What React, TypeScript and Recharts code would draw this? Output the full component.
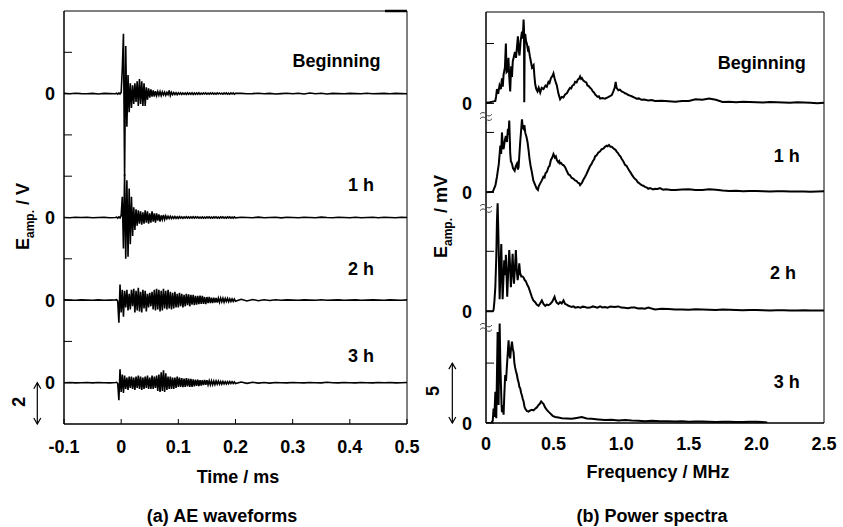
import React from 'react';
import { LineChart, Line, XAxis, YAxis, ReferenceLine, ReferenceDot, ReferenceArea } from 'recharts';

const FONT = "'Liberation Sans', Arial, Helvetica, sans-serif";

// ---------------- (a) AE waveforms ----------------
// sampling of the time axis (ms): coarse before, fine around the burst, coarse after
const preStart = -0.1, preStep = 0.01, preCount = 10;
const fineStart = -0.008, fineStep = 0.002, fineCount = 105;
const postStart = 0.21, postStep = 0.01, postCount = 30;

const timeTicks = [-0.1, 0, 0.1, 0.2, 0.3, 0.4, 0.5];
const waveTicks = [0, 2, 4, 6, 8, 10, 12, 14, 16];
const waveNames = ['Beginning', '1 h', '2 h', '3 h'];
const waveOffsets = [14, 8, 4, 0];

// amplitudes (V)
const beginWave = [
  // pre
  0.01, -0.01, 0.02, 0.0, -0.01, 0.01, -0.02, 0.01, 0.0, -0.01,
  // fine
  0.02, -0.03, 0.03, -0.02, 0.05,
  1.2, 2.9, -4.0, 2.3, -1.6,
  0.9, -0.9, 0.5, -0.7, 0.4,
  -0.5, 0.5, -0.4, 0.6, -0.6,
  0.7, -0.5, 0.6, -0.6, 0.5,
  -0.6, 0.3, -0.3, 0.25, -0.2,
  0.2, -0.15, 0.15, -0.15, 0.12,
  -0.1, 0.1, -0.08, 0.1, -0.1,
  0.08, -0.06, 0.07, -0.08, 0.06,
  -0.05, 0.15, -0.1, 0.06, -0.05,
  0.05, -0.04, 0.04, -0.05, 0.04,
  -0.03, 0.04, -0.04, 0.03, -0.03,
  0.03, -0.04, 0.04, -0.03, 0.03,
  -0.03, 0.04, -0.04, 0.03, -0.03,
  0.03, -0.03, 0.04, -0.03, 0.02,
  -0.03, 0.03, -0.02, 0.03, -0.03,
  0.02, -0.03, 0.03, -0.02, 0.03,
  -0.03, 0.02, -0.03, 0.03, -0.02,
  0.03, -0.02, 0.02, -0.03, 0.03,
  -0.02, 0.03, -0.03, 0.02, -0.03,
  0.03, -0.02, 0.03, -0.03, 0.02,
  // post
  0.01, -0.01, 0.0, 0.02, -0.01, 0.01, -0.02, 0.0, 0.02, -0.01,
  0.02, -0.02, 0.03, -0.01, 0.02, -0.02, 0.01, 0.0, -0.01, 0.01,
  0.0, -0.01, 0.02, -0.01, 0.0, 0.01, -0.01, 0.01, 0.0, -0.01,
];

const h1Wave = [
  0.0, -0.01, 0.01, 0.0, 0.01, -0.01, 0.0, 0.01, -0.01, 0.0,
  0.02, -0.03, 0.03, -0.02, 0.1,
  1.0, -1.5, 2.1, -2.0, 1.8,
  -1.9, 1.4, -1.3, 1.0, -0.9,
  0.5, -0.6, 0.4, -0.4, 0.35,
  -0.3, 0.3, -0.35, 0.25, -0.3,
  0.35, -0.25, 0.3, -0.3, 0.2,
  -0.25, 0.3, -0.2, 0.2, -0.25,
  0.2, -0.15, 0.15, -0.2, 0.1,
  -0.1, 0.12, -0.1, 0.08, -0.06,
  0.06, -0.05, 0.06, -0.05, 0.04,
  -0.04, 0.05, -0.04, 0.03, -0.04,
  0.04, -0.03, 0.03, -0.04, 0.03,
  -0.03, 0.04, -0.03, 0.03, -0.03,
  0.03, -0.03, 0.04, -0.03, 0.03,
  -0.02, 0.03, -0.03, 0.02, -0.03,
  0.03, -0.03, 0.02, -0.03, 0.03,
  -0.02, 0.03, -0.03, 0.02, -0.03,
  0.03, -0.02, 0.03, -0.03, 0.02,
  -0.03, 0.03, -0.02, 0.03, -0.03,
  0.02, -0.03, 0.03, -0.02, 0.03,
  -0.03, 0.02, -0.03, 0.03, -0.02,
  0.01, 0.0, -0.01, 0.02, -0.01, 0.0, 0.01, -0.02, 0.01, 0.0,
  -0.01, 0.01, 0.0, -0.01, 0.02, 0.0, -0.01, 0.01, 0.0, -0.01,
  0.01, -0.01, 0.0, 0.01, -0.01, 0.01, 0.0, -0.01, 0.01, 0.0,
];

const h2Wave = [
  0.01, 0.0, -0.01, 0.01, 0.0, -0.01, 0.01, -0.01, 0.0, 0.01,
  0.02, -0.05, -1.1, 0.75, -0.6,
  0.5, -0.8, 0.45, -0.35, 0.5,
  -0.5, 0.3, -0.45, 0.5, -0.3,
  0.55, -0.6, 0.45, -0.5, 0.6,
  -0.55, 0.4, -0.6, 0.5, -0.4,
  0.45, -0.55, 0.3, -0.35, 0.35,
  -0.3, 0.4, -0.45, 0.5, -0.5,
  0.55, -0.45, 0.5, -0.55, 0.45,
  -0.5, 0.55, -0.4, 0.45, -0.45,
  0.5, -0.4, 0.4, -0.45, 0.35,
  -0.4, 0.4, -0.35, 0.3, -0.35,
  0.35, -0.3, 0.3, -0.35, 0.25,
  -0.3, 0.3, -0.25, 0.28, -0.3,
  0.25, -0.22, 0.25, -0.25, 0.2,
  -0.22, 0.2, -0.2, 0.22, -0.18,
  0.2, -0.18, 0.15, -0.2, 0.15,
  -0.15, 0.16, -0.14, 0.12, -0.15,
  0.12, -0.12, 0.1, -0.12, 0.1,
  -0.1, 0.1, -0.08, 0.09, -0.1,
  0.08, -0.07, 0.08, -0.08, 0.06,
  -0.07, 0.06, -0.06, 0.05, -0.06,
  0.04, -0.04, 0.03, -0.03, 0.02, -0.02, 0.02, -0.01, 0.01, 0.0,
  -0.01, 0.01, 0.0, -0.01, 0.02, -0.01, 0.0, 0.01, -0.01, 0.0,
  0.01, -0.01, 0.0, 0.01, 0.0, -0.01, 0.01, 0.0, -0.01, 0.01,
];

const h3Wave = [
  0.0, 0.01, -0.01, 0.0, 0.01, -0.01, 0.01, 0.0, -0.01, 0.01,
  0.02, -0.04, -0.85, 0.65, -0.45,
  0.4, -0.5, 0.35, -0.3, 0.25,
  -0.35, 0.3, -0.25, 0.3, -0.3,
  0.25, -0.35, 0.3, -0.25, 0.35,
  -0.3, 0.3, -0.35, 0.25, -0.3,
  0.3, -0.25, 0.35, -0.3, 0.25,
  -0.3, 0.35, -0.3, 0.3, -0.25,
  0.35, -0.4, 0.4, -0.45, 0.5,
  -0.4, 0.6, -0.45, 0.45, -0.35,
  0.3, -0.3, 0.3, -0.3, 0.25,
  -0.3, 0.25, -0.25, 0.3, -0.2,
  0.25, -0.2, 0.22, -0.22, 0.2,
  -0.2, 0.22, -0.18, 0.2, -0.2,
  0.18, -0.2, 0.16, -0.18, 0.15,
  -0.15, 0.15, -0.16, 0.12, -0.14,
  0.12, -0.12, 0.14, -0.1, 0.12,
  -0.1, 0.1, -0.1, 0.09, -0.1,
  0.08, -0.09, 0.08, -0.07, 0.08,
  -0.07, 0.06, -0.07, 0.06, -0.06,
  0.05, -0.06, 0.05, -0.05, 0.05,
  -0.04, 0.05, -0.04, 0.04, -0.04,
  0.03, -0.03, 0.02, -0.02, 0.01, -0.02, 0.01, 0.0, -0.01, 0.01,
  0.0, -0.01, 0.01, 0.0, -0.01, 0.02, 0.0, -0.01, 0.01, 0.0,
  -0.01, 0.01, 0.0, -0.01, 0.01, 0.0, 0.01, -0.01, 0.0, 0.01,
];

// ---------------- (b) Power spectra ----------------
const freqTicks = [0, 0.5, 1, 1.5, 2, 2.5];
const specNames = ['Beginning', '1 h', '2 h', '3 h'];
const specOffsets = [26.67, 19.25, 9.33, 0];

// [frequency MHz, amplitude mV]
const beginSpec: [number, number][] = [
  [0, 0.05], [0.03, 0.1], [0.05, 0.15], [0.069, 0.2], [0.075, 0.6], [0.081, 1.2], [0.09, 0.8], [0.1, 1.5],
  [0.11, 1.2], [0.118, 2.1], [0.124, 1.4], [0.13, 2.4], [0.14, 3.0], [0.147, 5.0], [0.152, 2.6], [0.16, 2.7],
  [0.166, 3.8], [0.172, 2.2], [0.179, 1.0], [0.186, 3.1], [0.192, 2.2], [0.198, 3.5], [0.206, 3.9], [0.214, 4.3],
  [0.222, 3.8], [0.236, 5.6], [0.242, 4.4], [0.248, 4.0], [0.256, 5.2], [0.266, 6.0], [0.272, 5.4], [0.278, 7.0],
  [0.281, 6.2], [0.283, 0.1], [0.286, 5.0], [0.29, 5.8], [0.296, 5.2], [0.302, 5.0], [0.31, 4.5], [0.315, 4.6],
  [0.325, 3.9], [0.332, 3.5], [0.34, 3.0], [0.352, 3.2], [0.358, 2.3], [0.364, 1.6], [0.372, 1.2], [0.381, 1.0],
  [0.39, 1.3], [0.401, 0.9], [0.412, 1.3], [0.425, 1.2], [0.44, 1.5], [0.45, 1.4], [0.462, 1.8], [0.47, 1.7],
  [0.48, 2.1], [0.492, 2.3], [0.499, 2.5], [0.507, 2.1], [0.515, 1.8], [0.524, 1.5], [0.536, 0.8], [0.548, 0.35],
  [0.56, 0.55], [0.572, 0.5], [0.585, 0.75], [0.598, 0.85], [0.61, 1.1], [0.622, 1.3], [0.63, 1.25], [0.64, 1.5],
  [0.65, 1.55], [0.659, 1.8], [0.67, 1.75], [0.68, 2.0], [0.688, 2.05], [0.696, 2.25], [0.704, 2.05], [0.71, 2.1],
  [0.72, 1.9], [0.733, 1.8], [0.742, 1.75], [0.75, 1.5], [0.76, 1.45], [0.77, 1.3], [0.78, 1.2], [0.79, 1.0],
  [0.8, 0.9], [0.807, 0.75], [0.825, 0.55], [0.835, 0.6], [0.844, 0.4], [0.86, 0.45], [0.88, 0.4], [0.9, 0.5],
  [0.917, 0.6], [0.93, 0.7], [0.942, 1.0], [0.952, 1.3], [0.959, 1.8], [0.966, 1.3], [0.979, 1.1], [0.99, 1.15],
  [1.003, 1.0], [1.015, 0.95], [1.028, 0.85], [1.04, 0.8], [1.053, 0.7], [1.065, 0.65], [1.077, 0.6], [1.095, 0.5],
  [1.114, 0.4], [1.13, 0.42], [1.15, 0.3], [1.17, 0.32], [1.2, 0.25], [1.225, 0.28], [1.25, 0.2], [1.3, 0.22],
  [1.35, 0.18], [1.4, 0.15], [1.45, 0.2], [1.5, 0.2], [1.55, 0.35], [1.6, 0.3], [1.65, 0.4], [1.7, 0.3],
  [1.75, 0.12], [1.8, 0.15], [1.85, 0.1], [1.9, 0.14], [1.95, 0.12], [2.0, 0.1], [2.05, 0.08], [2.1, 0.12],
  [2.15, 0.1], [2.2, 0.08], [2.25, 0.05], [2.3, 0.1], [2.35, 0.08], [2.4, 0.06], [2.45, 0.02], [2.5, 0.05],
];

const h1Spec: [number, number][] = [
  [0, 0], [0.05, 0.05], [0.056, 0.2], [0.07, 0.6], [0.081, 1.3], [0.095, 2.4], [0.106, 3.9], [0.112, 3.2],
  [0.118, 5.0], [0.124, 3.9], [0.13, 3.6], [0.14, 4.4], [0.147, 4.7], [0.155, 4.2], [0.162, 5.3], [0.167, 4.8],
  [0.172, 6.0], [0.176, 4.5], [0.179, 3.3], [0.184, 2.6], [0.192, 2.4], [0.2, 2.0], [0.212, 1.8], [0.22, 2.2],
  [0.229, 2.4], [0.236, 1.9], [0.241, 2.1], [0.253, 4.2], [0.26, 5.2], [0.266, 6.1], [0.272, 5.4], [0.278, 5.3],
  [0.284, 5.6], [0.29, 5.0], [0.3, 4.6], [0.307, 4.2], [0.315, 3.5], [0.322, 2.8], [0.33, 2.2], [0.339, 1.7],
  [0.35, 1.0], [0.364, 0.6], [0.375, 0.3], [0.384, 0.2], [0.39, 0.5], [0.401, 0.75], [0.413, 1.0], [0.425, 1.3],
  [0.433, 1.25], [0.44, 1.6], [0.45, 1.7], [0.462, 2.1], [0.47, 2.2], [0.48, 2.7], [0.49, 2.9], [0.499, 3.2],
  [0.51, 2.9], [0.517, 3.0], [0.524, 2.7], [0.535, 2.5], [0.542, 2.6], [0.548, 2.4], [0.556, 2.45], [0.565, 2.3],
  [0.575, 2.25], [0.585, 2.1], [0.597, 1.8], [0.61, 1.5], [0.62, 1.45], [0.634, 1.2], [0.645, 1.15], [0.659, 1.0],
  [0.67, 0.95], [0.68, 0.8], [0.69, 0.75], [0.696, 0.6], [0.703, 0.7], [0.71, 0.8], [0.72, 1.05], [0.733, 1.3],
  [0.742, 1.5], [0.75, 1.7], [0.76, 1.95], [0.77, 2.2], [0.78, 2.35], [0.79, 2.6], [0.8, 2.75], [0.807, 3.0],
  [0.818, 3.1], [0.83, 3.3], [0.842, 3.4], [0.856, 3.6], [0.868, 3.65], [0.88, 3.8], [0.893, 3.9], [0.9, 3.85],
  [0.91, 3.95], [0.92, 3.8], [0.93, 3.8], [0.94, 3.7], [0.95, 3.6], [0.958, 3.55], [0.966, 3.4], [0.975, 3.3],
  [0.985, 3.1], [0.994, 3.0], [1.003, 2.8], [1.015, 2.6], [1.028, 2.3], [1.04, 2.2], [1.05, 2.0], [1.06, 1.8],
  [1.07, 1.65], [1.077, 1.5], [1.086, 1.35], [1.095, 1.2], [1.105, 1.1], [1.114, 1.0], [1.122, 0.85], [1.13, 0.8],
  [1.14, 0.7], [1.151, 0.6], [1.163, 0.55], [1.176, 0.45], [1.19, 0.4], [1.2, 0.3], [1.213, 0.35], [1.225, 0.3],
  [1.237, 0.25], [1.25, 0.3], [1.27, 0.28], [1.286, 0.35], [1.31, 0.22], [1.33, 0.25], [1.37, 0.2], [1.4, 0.2],
  [1.45, 0.24], [1.5, 0.25], [1.55, 0.2], [1.6, 0.2], [1.65, 0.25], [1.7, 0.22], [1.75, 0.15], [1.8, 0.12],
  [1.85, 0.14], [1.9, 0.1], [1.95, 0.12], [2.0, 0.12], [2.05, 0.1], [2.1, 0.08], [2.15, 0.1], [2.2, 0.1],
  [2.25, 0.07], [2.3, 0.08], [2.35, 0.06], [2.4, 0.05], [2.45, 0.08], [2.5, 0.1],
];

const h2Spec: [number, number][] = [
  [0, 0], [0.05, 0], [0.056, 0.1], [0.062, 0.8], [0.069, 2.0], [0.076, 4.5], [0.081, 7.5], [0.086, 9.0],
  [0.091, 6.75], [0.096, 4.0], [0.101, 1.0], [0.106, 3.0], [0.113, 5.6], [0.118, 3.0], [0.123, 1.0], [0.13, 3.0],
  [0.135, 4.25], [0.142, 3.0], [0.147, 4.7], [0.152, 3.0], [0.157, 1.2], [0.165, 3.5], [0.172, 5.1], [0.178, 3.8],
  [0.184, 2.0], [0.19, 3.2], [0.197, 4.8], [0.202, 3.2], [0.207, 2.3], [0.214, 3.6], [0.221, 5.1], [0.227, 3.5],
  [0.234, 2.6], [0.241, 3.2], [0.246, 4.0], [0.252, 3.2], [0.261, 2.9], [0.27, 2.9], [0.278, 2.8], [0.286, 2.6],
  [0.295, 2.5], [0.305, 2.2], [0.315, 2.0], [0.327, 1.6], [0.339, 1.2], [0.35, 0.9], [0.364, 0.75], [0.375, 0.55],
  [0.389, 0.45], [0.4, 0.65], [0.413, 0.9], [0.425, 0.6], [0.438, 0.45], [0.45, 0.55], [0.462, 0.5], [0.475, 0.6],
  [0.49, 0.8], [0.507, 1.2], [0.515, 0.9], [0.524, 0.7], [0.536, 0.6], [0.548, 0.75], [0.56, 0.65], [0.573, 0.9],
  [0.585, 0.6], [0.597, 0.55], [0.61, 0.45], [0.622, 0.4], [0.634, 0.35], [0.647, 0.4], [0.66, 0.3], [0.68, 0.35],
  [0.7, 0.3], [0.715, 0.38], [0.733, 0.35], [0.75, 0.28], [0.77, 0.3], [0.79, 0.4], [0.807, 0.35], [0.825, 0.3],
  [0.844, 0.4], [0.86, 0.32], [0.88, 0.35], [0.9, 0.3], [0.92, 0.4], [0.95, 0.35], [0.979, 0.4], [1.0, 0.3],
  [1.025, 0.28], [1.05, 0.25], [1.075, 0.3], [1.1, 0.3], [1.125, 0.22], [1.15, 0.25], [1.175, 0.2], [1.2, 0.3],
  [1.25, 0.15], [1.3, 0.2], [1.35, 0.18], [1.4, 0.15], [1.45, 0.14], [1.5, 0.12], [1.55, 0.16], [1.6, 0.15],
  [1.65, 0.12], [1.7, 0.1], [1.75, 0.14], [1.8, 0.12], [1.85, 0.1], [1.9, 0.08], [1.95, 0.1], [2.0, 0.1],
  [2.05, 0.08], [2.1, 0.05], [2.15, 0.08], [2.2, 0.08], [2.25, 0.06], [2.3, 0.05], [2.35, 0.07], [2.4, 0.06],
  [2.45, 0.05], [2.5, 0.05],
];

const h3Spec: [number, number][] = [
  [0, 0], [0.04, 0], [0.05, 0.2], [0.056, 1.2], [0.062, 0.5], [0.069, 2.6], [0.076, 0.4], [0.081, 4.0],
  [0.086, 7.6], [0.09, 3.4], [0.093, 1.5], [0.097, 5.0], [0.101, 8.3], [0.106, 5.0], [0.11, 3.4], [0.115, 1.5],
  [0.118, 0.9], [0.125, 1.5], [0.13, 0.7], [0.136, 2.5], [0.142, 4.0], [0.148, 3.5], [0.155, 4.8], [0.162, 6.0],
  [0.167, 6.9], [0.172, 5.8], [0.179, 5.4], [0.185, 6.2], [0.192, 6.8], [0.198, 6.2], [0.204, 5.9], [0.21, 5.0],
  [0.216, 4.6], [0.222, 4.3], [0.229, 4.0], [0.235, 3.6], [0.241, 3.4], [0.247, 3.0], [0.253, 2.9], [0.26, 2.5],
  [0.266, 2.3], [0.272, 2.0], [0.278, 1.8], [0.284, 1.4], [0.29, 1.2], [0.302, 1.0], [0.315, 0.95], [0.327, 1.05],
  [0.339, 1.1], [0.352, 1.05], [0.364, 1.2], [0.376, 1.3], [0.389, 1.5], [0.398, 1.6], [0.408, 1.8], [0.416, 1.7],
  [0.425, 1.6], [0.437, 1.3], [0.45, 1.1], [0.462, 0.95], [0.475, 0.8], [0.493, 0.6], [0.512, 0.5], [0.536, 0.45],
  [0.561, 0.4], [0.597, 0.38], [0.634, 0.35], [0.67, 0.42], [0.708, 0.5], [0.745, 0.38], [0.782, 0.35], [0.83, 0.3],
  [0.88, 0.25], [0.93, 0.28], [0.979, 0.2], [1.03, 0.24], [1.077, 0.2], [1.125, 0.18], [1.176, 0.15], [1.23, 0.18],
  [1.286, 0.15], [1.34, 0.14], [1.4, 0.12], [1.45, 0.14], [1.5, 0.1], [1.55, 0.12], [1.6, 0.12], [1.65, 0.1],
  [1.7, 0.08], [1.75, 0.1], [1.8, 0.1], [1.85, 0.08], [1.9, 0.08], [1.95, 0.1], [2.0, 0.1], [2.04, 0.08], [2.08, 0.05],
];

// ---------------- derived tables ----------------
const seg = (start: number, step: number, n: number) =>
  Array.from({ length: n }, (_, i) => Math.round((start + i * step) * 10000) / 10000);
const timeGrid = [...seg(preStart, preStep, preCount), ...seg(fineStart, fineStep, fineCount), ...seg(postStart, postStep, postCount)];

const waves = [beginWave, h1Wave, h2Wave, h3Wave];
const waveData = waves.map((w, k) =>
  timeGrid.slice(0, w.length).map((t, i) => ({ t, v: w[i] + waveOffsets[k] })),
);
const specs = [beginSpec, h1Spec, h2Spec, h3Spec];
const specData = specs.map((s, k) => s.map(([f, a]) => ({ f, v: a + specOffsets[k] })));

const specTicks = [...specOffsets, ...specOffsets.map((o) => o + 5)].sort((a, b) => a - b);

// ---------------- render helpers ----------------
const txt = { fontFamily: FONT, fontWeight: 'bold' as const, fill: '#000' };

const makeYTick = (zeros: number[], gap: number) => (p: any) => {
  const { x, y, payload } = p;
  const isZero = zeros.some((z) => Math.abs(z - payload.value) < 1e-6);
  return (
    <g>
      <line x1={x} y1={y} x2={x + 8} y2={y} stroke="#000" strokeWidth={1} />
      {isZero && (
        <text x={x - gap} y={y} dy={6.5} textAnchor="end" fontSize={18} {...txt}>0</text>
      )}
    </g>
  );
};

const makeXTick = (tickLen: number, dy: number) => (p: any) => {
  const { x, y, payload } = p;
  const v = payload.value;
  const lbl = v === 0 ? '0' : v.toFixed(1);
  return (
    <g>
      {tickLen > 0 && <line x1={x} y1={y} x2={x} y2={y - tickLen} stroke="#000" strokeWidth={1} />}
      <text x={x} y={y + dy} textAnchor="middle" fontSize={18} {...txt}>{lbl}</text>
    </g>
  );
};

const YTitle = (unit: string, cx: number, fallback: any) => (p: any) => {
  const vb = (p && p.viewBox) || fallback;
  const cy = vb.y + vb.height / 2 - 1;
  return (
    <text transform={`rotate(-90 ${cx} ${cy})`} x={cx} y={cy} dy={6} textAnchor="middle" fontSize={18} {...txt}>
      E<tspan fontSize={12} dy={5}>amp.</tspan>
      <tspan dy={-5}>{` / ${unit}`}</tspan>
    </text>
  );
};

const XTitle = (label: string, dx: number, dy: number, fallback: any) => (p: any) => {
  const vb = (p && p.viewBox) || fallback;
  return (
    <text x={vb.x + vb.width / 2 + dx} y={vb.y + dy} textAnchor="middle" fontSize={18} {...txt}>{label}</text>
  );
};

const textShape = (label: string, size = 18, rotate = false) => (p: any) => {
  const { cx, cy } = p;
  return (
    <text
      x={cx}
      y={cy}
      dy={6.5}
      textAnchor="middle"
      fontSize={size}
      transform={rotate ? `rotate(-90 ${cx} ${cy})` : undefined}
      {...txt}
    >
      {label}
    </text>
  );
};

const breakShape = (p: any) => {
  const { cx, cy } = p;
  const wave = (yy: number) => `M ${cx - 6} ${yy} q 3 -3.5 6 0 t 6 0`;
  return (
    <g fill="none" stroke="#444" strokeWidth={1}>
      <path d={wave(cy - 2)} />
      <path d={wave(cy + 2.5)} />
    </g>
  );
};

const scaleBarShape = (p: any) => {
  const { x1, y1, y2 } = p;
  const top = Math.min(y1, y2);
  const bot = Math.max(y1, y2);
  return (
    <g stroke="#000" strokeWidth={1.2} fill="none">
      <line x1={x1} y1={top} x2={x1} y2={bot} />
      <polyline points={`${x1 - 3.5},${top + 6} ${x1},${top} ${x1 + 3.5},${top + 6}`} />
      <polyline points={`${x1 - 3.5},${bot - 6} ${x1},${bot} ${x1 + 3.5},${bot - 6}`} />
    </g>
  );
};

export default function App() {
  return (
    <div style={{ position: 'absolute', left: 0, top: 0, width: 843, height: 527, background: '#fff', overflow: 'hidden' }}>
      {/* (a) AE waveforms */}
      <div style={{ position: 'absolute', left: 0, top: 0 }}>
        <LineChart width={432} height={527} margin={{ top: 11, right: 25, bottom: 63, left: 0 }}>
          <XAxis
            type="number"
            dataKey="t"
            domain={[-0.1, 0.5]}
            ticks={timeTicks}
            interval={0}
            allowDataOverflow
            height={40}
            tickSize={0}
            tickMargin={0}
            tickLine={false}
            tick={makeXTick(5, 29)}
            stroke="#000"
            label={{ content: XTitle('Time / ms', 2.5, 59, { x: 64, y: 424, width: 343, height: 40 }) }}
          />
          <YAxis
            type="number"
            domain={[-2, 18]}
            ticks={waveTicks}
            interval={0}
            allowDataOverflow
            width={64}
            tickSize={0}
            tickMargin={0}
            tickLine={false}
            tick={makeYTick(waveOffsets, 9)}
            stroke="#000"
            label={{ content: YTitle('V', 22.5, { x: 0, y: 11, width: 64, height: 413 }) }}
          />
          <ReferenceArea x1={-0.1} x2={0.5} y1={-2} y2={18} fill="none" stroke="#000" strokeWidth={1} ifOverflow="visible" />
          <ReferenceLine segment={[{ x: 0.4615, y: 18 }, { x: 0.5, y: 18 }]} stroke="#000" strokeWidth={2.5} ifOverflow="visible" />
          {waveData.map((d, k) => (
            <Line
              key={waveNames[k]}
              data={d}
              dataKey="v"
              type="linear"
              stroke="#000"
              strokeWidth={1.6}
              dot={false}
              activeDot={false}
              isAnimationActive={false}
            />
          ))}
          <ReferenceDot x={0.3767} y={15.59} r={0} ifOverflow="visible" shape={textShape(waveNames[0])} />
          <ReferenceDot x={0.4195} y={9.6} r={0} ifOverflow="visible" shape={textShape(waveNames[1])} />
          <ReferenceDot x={0.4195} y={5.54} r={0} ifOverflow="visible" shape={textShape(waveNames[2])} />
          <ReferenceDot x={0.4195} y={1.34} r={0} ifOverflow="visible" shape={textShape(waveNames[3])} />
          <ReferenceLine segment={[{ x: -0.1467, y: -2 }, { x: -0.1467, y: 0 }]} ifOverflow="visible" shape={scaleBarShape} />
          <ReferenceDot x={-0.18} y={-0.92} r={0} ifOverflow="visible" shape={textShape('2', 18, true)} />
        </LineChart>
      </div>

      {/* (b) Power spectra */}
      <div style={{ position: 'absolute', left: 420, top: 0 }}>
        <LineChart width={423} height={527} margin={{ top: 12, right: 19, bottom: 64, left: 0 }}>
          <XAxis
            type="number"
            dataKey="f"
            domain={[0, 2.5]}
            ticks={freqTicks}
            interval={0}
            allowDataOverflow
            height={40}
            tickSize={0}
            tickMargin={0}
            tickLine={false}
            tick={makeXTick(0, 27)}
            stroke="#000"
            label={{ content: XTitle('Frequency / MHz', 3, 55, { x: 66, y: 423, width: 338, height: 40 }) }}
          />
          <YAxis
            type="number"
            domain={[0, 34.3]}
            ticks={specTicks}
            interval={0}
            allowDataOverflow
            width={66}
            tickSize={0}
            tickMargin={0}
            tickLine={false}
            tick={makeYTick(specOffsets, 14)}
            stroke="#000"
            label={{ content: YTitle('mV', 21, { x: 0, y: 12, width: 66, height: 411 }) }}
          />
          <ReferenceArea x1={0} x2={2.5} y1={0} y2={34.3} fill="none" stroke="#000" strokeWidth={1} ifOverflow="visible" />
          {specData.map((d, k) => (
            <Line
              key={specNames[k]}
              data={d}
              dataKey="v"
              type="linear"
              stroke="#000"
              strokeWidth={2}
              dot={false}
              activeDot={false}
              isAnimationActive={false}
            />
          ))}
          <ReferenceDot x={0} y={25.6} r={0} ifOverflow="visible" shape={breakShape} />
          <ReferenceDot x={0} y={17.93} r={0} ifOverflow="visible" shape={breakShape} />
          <ReferenceDot x={0} y={8.0} r={0} ifOverflow="visible" shape={breakShape} />
          <ReferenceDot x={2.04} y={30.07} r={0} ifOverflow="visible" shape={textShape(specNames[0])} />
          <ReferenceDot x={2.224} y={22.35} r={0} ifOverflow="visible" shape={textShape(specNames[1])} />
          <ReferenceDot x={2.197} y={12.55} r={0} ifOverflow="visible" shape={textShape(specNames[2])} />
          <ReferenceDot x={2.224} y={3.44} r={0} ifOverflow="visible" shape={textShape(specNames[3])} />
          <ReferenceLine segment={[{ x: -0.249, y: 0 }, { x: -0.249, y: 5 }]} ifOverflow="visible" shape={scaleBarShape} />
          <ReferenceDot x={-0.392} y={2.67} r={0} ifOverflow="visible" shape={textShape('5', 18, true)} />
        </LineChart>
      </div>

      {/* panel captions */}
      <div style={{ position: 'absolute', left: 72, top: 506, width: 300, textAlign: 'center', fontFamily: FONT, fontWeight: 'bold', fontSize: 18, lineHeight: '21px', color: '#000' }}>
        (a) AE waveforms
      </div>
      <div style={{ position: 'absolute', left: 502, top: 506, width: 300, textAlign: 'center', fontFamily: FONT, fontWeight: 'bold', fontSize: 18, lineHeight: '21px', color: '#000' }}>
        (b) Power spectra
      </div>
    </div>
  );
}
